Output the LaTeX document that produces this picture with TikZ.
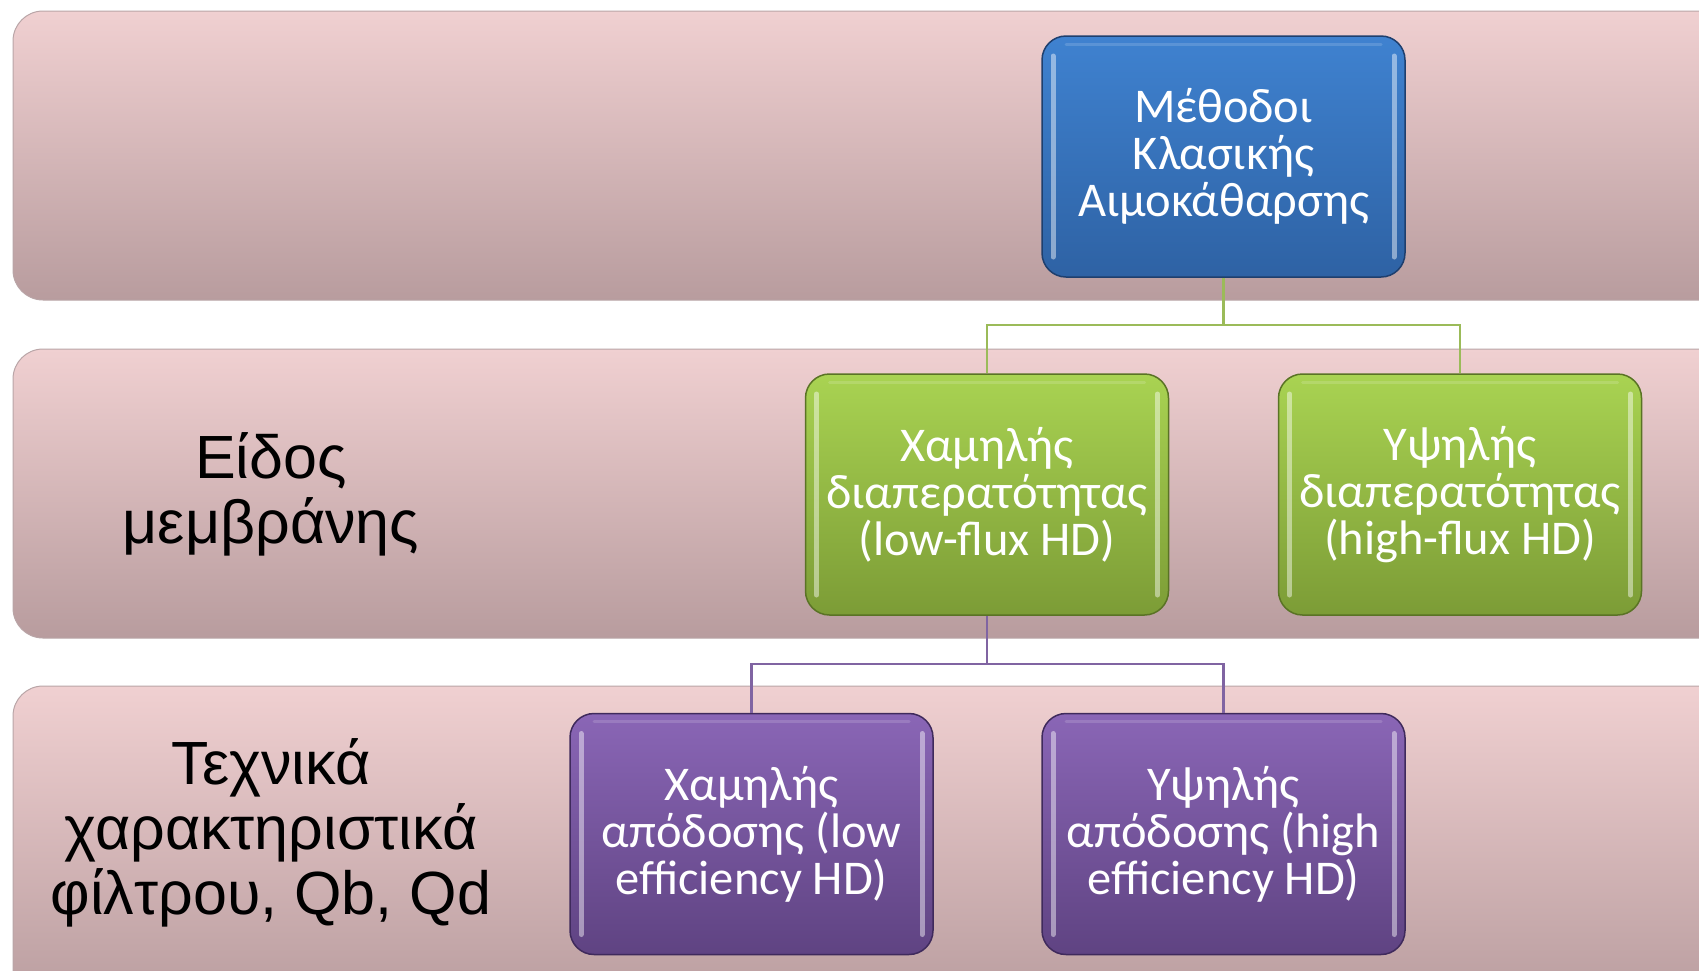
\documentclass[tikz,border=0pt]{standalone}
\usepackage{fontspec}
\setmainfont{Liberation Sans}
\newfontfamily\boxfont{Carlito}
\definecolor{bandtop}{HTML}{F0D0D1}
\definecolor{bandbot}{HTML}{B89C9E}
\definecolor{bandedge}{HTML}{B9A5A7}
\definecolor{bluetop}{HTML}{3F82D0}
\definecolor{bluebot}{HTML}{2E62A4}
\definecolor{blueedge}{HTML}{1E3F6E}
\definecolor{greentop}{HTML}{A9D352}
\definecolor{greenbot}{HTML}{7C9C36}
\definecolor{greenedge}{HTML}{5A7325}
\definecolor{purptop}{HTML}{8A66B6}
\definecolor{purpbot}{HTML}{5F4382}
\definecolor{purpedge}{HTML}{3F2A5C}
\definecolor{greenline}{HTML}{9BBB59}
\definecolor{purpline}{HTML}{8064A2}
\tikzset{
  band/.style={rounded corners=30pt, top color=bandtop, bottom color=bandbot},
  bandline/.style={draw=bandedge, line width=1pt, rounded corners=30pt},
  bandlabel/.style={text=black, align=center, font=\fontsize{61}{65}\selectfont},
  tile/.style={rounded corners=24pt, minimum width=363pt, minimum height=241pt, inner sep=0pt,
    text=white, align=center, font=\boxfont\fontsize{48.5}{47}\selectfont, line width=1.5pt,
    path picture={
      % bevel highlights along the left and right inner edges
      \draw[white, opacity=0.45, line width=5pt, line cap=round]
        ([shift={(11pt,-20pt)}]path picture bounding box.north west) --
        ([shift={(11pt,20pt)}]path picture bounding box.south west);
      \draw[white, opacity=0.45, line width=5pt, line cap=round]
        ([shift={(-11pt,-20pt)}]path picture bounding box.north east) --
        ([shift={(-11pt,20pt)}]path picture bounding box.south east);
      \draw[white, opacity=0.15, line width=3pt, line cap=round]
        ([shift={(24pt,-8pt)}]path picture bounding box.north west) --
        ([shift={(-24pt,-8pt)}]path picture bounding box.north east);
    }},
  bluetile/.style={tile, top color=bluetop, bottom color=bluebot, draw=blueedge},
  greentile/.style={tile, top color=greentop, bottom color=greenbot, draw=greenedge},
  purptile/.style={tile, top color=purptop, bottom color=purpbot, draw=purpedge},
  link/.style={line width=2.5pt}
}
\begin{document}
\begin{tikzpicture}[x=1pt, y=-1pt]
\useasboundingbox (0,0) rectangle (1699,970);
\clip (0,0) rectangle (1699,970);
% background bands
\shade[band] (13,11) rectangle (1740,300);
\shade[band] (13,349) rectangle (1740,638);
\shade[band] (13,686) rectangle (1740,1010);
\draw[bandline] (13,11) rectangle (1740,300);
\draw[bandline] (13,349) rectangle (1740,638);
\draw[bandline] (13,686) rectangle (1740,1010);
% row labels
\node[bandlabel] (lab2) at (271,494) {Είδος\\μεμβράνης};
\node[bandlabel] (lab3) at (271,833) {Τεχνικά\\χαρακτηριστικά\\φίλτρου, Qb, Qd};
% connectors
\coordinate (j1) at (1223.5,325);
\coordinate (j2) at (987,664);
% tree nodes
\node[bluetile] (root) at (1223.5,156.5) {Μέθοδοι\\Κλασικής\\Αιμοκάθαρσης};
\node[greentile] (low) at (987,494.5) {Χαμηλής\\διαπερατότητας\\(low-flux HD)};
\node[greentile] (high) at (1460,494.5) {Υψηλής\\διαπερατότητας\\(high-flux HD)};
\node[purptile] (loweff) at (751.5,834) {Χαμηλής\\απόδοσης (low\\efficiency HD)};
\node[purptile] (higheff) at (1223.5,834) {Υψηλής\\απόδοσης (high\\efficiency HD)};
\draw[link, greenline] (root.south) -- (j1) -| (low.north);
\draw[link, greenline] (j1) -| (high.north);
\draw[link, purpline] (low.south) -- (j2) -| (loweff.north);
\draw[link, purpline] (j2) -| (higheff.north);
\end{tikzpicture}
\end{document}
